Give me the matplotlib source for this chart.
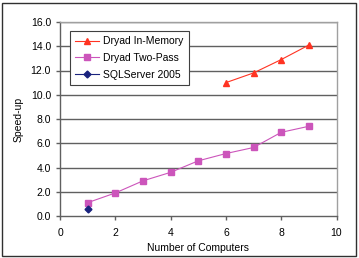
import matplotlib
matplotlib.use("Agg")
import matplotlib.pyplot as plt
from matplotlib.patches import Rectangle

inmem_x = [6, 7, 8, 9]
inmem_y = [11.0, 11.8, 12.9, 14.1]
twopass_x = [1, 2, 3, 4, 5, 6, 7, 8, 9]
twopass_y = [1.1, 1.9, 2.9, 3.6, 4.55, 5.15, 5.65, 6.9, 7.4]
sql_x = [1]
sql_y = [0.6]
yticks = [0, 2, 4, 6, 8, 10, 12, 14, 16]
xticks = [0, 2, 4, 6, 8, 10]

plt.rcParams['font.family'] = ['Liberation Sans', 'DejaVu Sans']
fig = plt.figure(figsize=(3.59, 2.58), dpi=100)
ax = fig.add_axes([60/359, 1 - 216/258, (336.5-60)/359, (216-22)/258])

for y in yticks[1:]:
    ax.axhline(y, color='#606060', lw=1.0, zorder=1)

ax.plot(inmem_x, inmem_y, color='#FF3322', lw=0.8, marker='^', ms=5, label='Dryad In-Memory', zorder=3)
ax.plot(twopass_x, twopass_y, color='#CC55BB', lw=0.8, marker='s', ms=4, label='Dryad Two-Pass', zorder=3)
ax.plot(sql_x, sql_y, color='#1A237E', lw=0.8, marker='D', ms=3.5, label='SQLServer 2005', zorder=3)

ax.set_xlim(0, 10)
ax.set_ylim(0, 16)
ax.set_xticks(xticks)
ax.set_yticks(yticks)
ax.set_yticklabels([f"{v:.1f}" for v in yticks])
ax.tick_params(labelsize=7.5, length=3, color='#606060', width=1)
ax.tick_params(axis='x', pad=6)
ax.spines['left'].set_color('#606060')
ax.spines['bottom'].set_color('#606060')
ax.spines['top'].set_color('#A0A0A0')
ax.spines['right'].set_color('#A0A0A0')
for s in ax.spines.values():
    s.set_linewidth(1.0)
ax.set_xlabel('Number of Computers', fontsize=7.5, labelpad=3)
ax.set_ylabel('Speed-up', fontsize=7.5, labelpad=5)

leg = ax.legend(loc='upper left', bbox_to_anchor=(10/276.5, (216-31)/194), borderaxespad=0,
                fontsize=7.5, frameon=True,
                fancybox=False, edgecolor='#404040', framealpha=1, borderpad=0.5,
                handlelength=2.3, labelspacing=0.65, handletextpad=0.4)
leg.get_frame().set_linewidth(0.8)

fig.patches.append(Rectangle((2/359, 2/258), 354/359, 253/258, transform=fig.transFigure,
                             fill=False, edgecolor='#303030', lw=1.0))

fig.savefig('out.png', dpi=100)
